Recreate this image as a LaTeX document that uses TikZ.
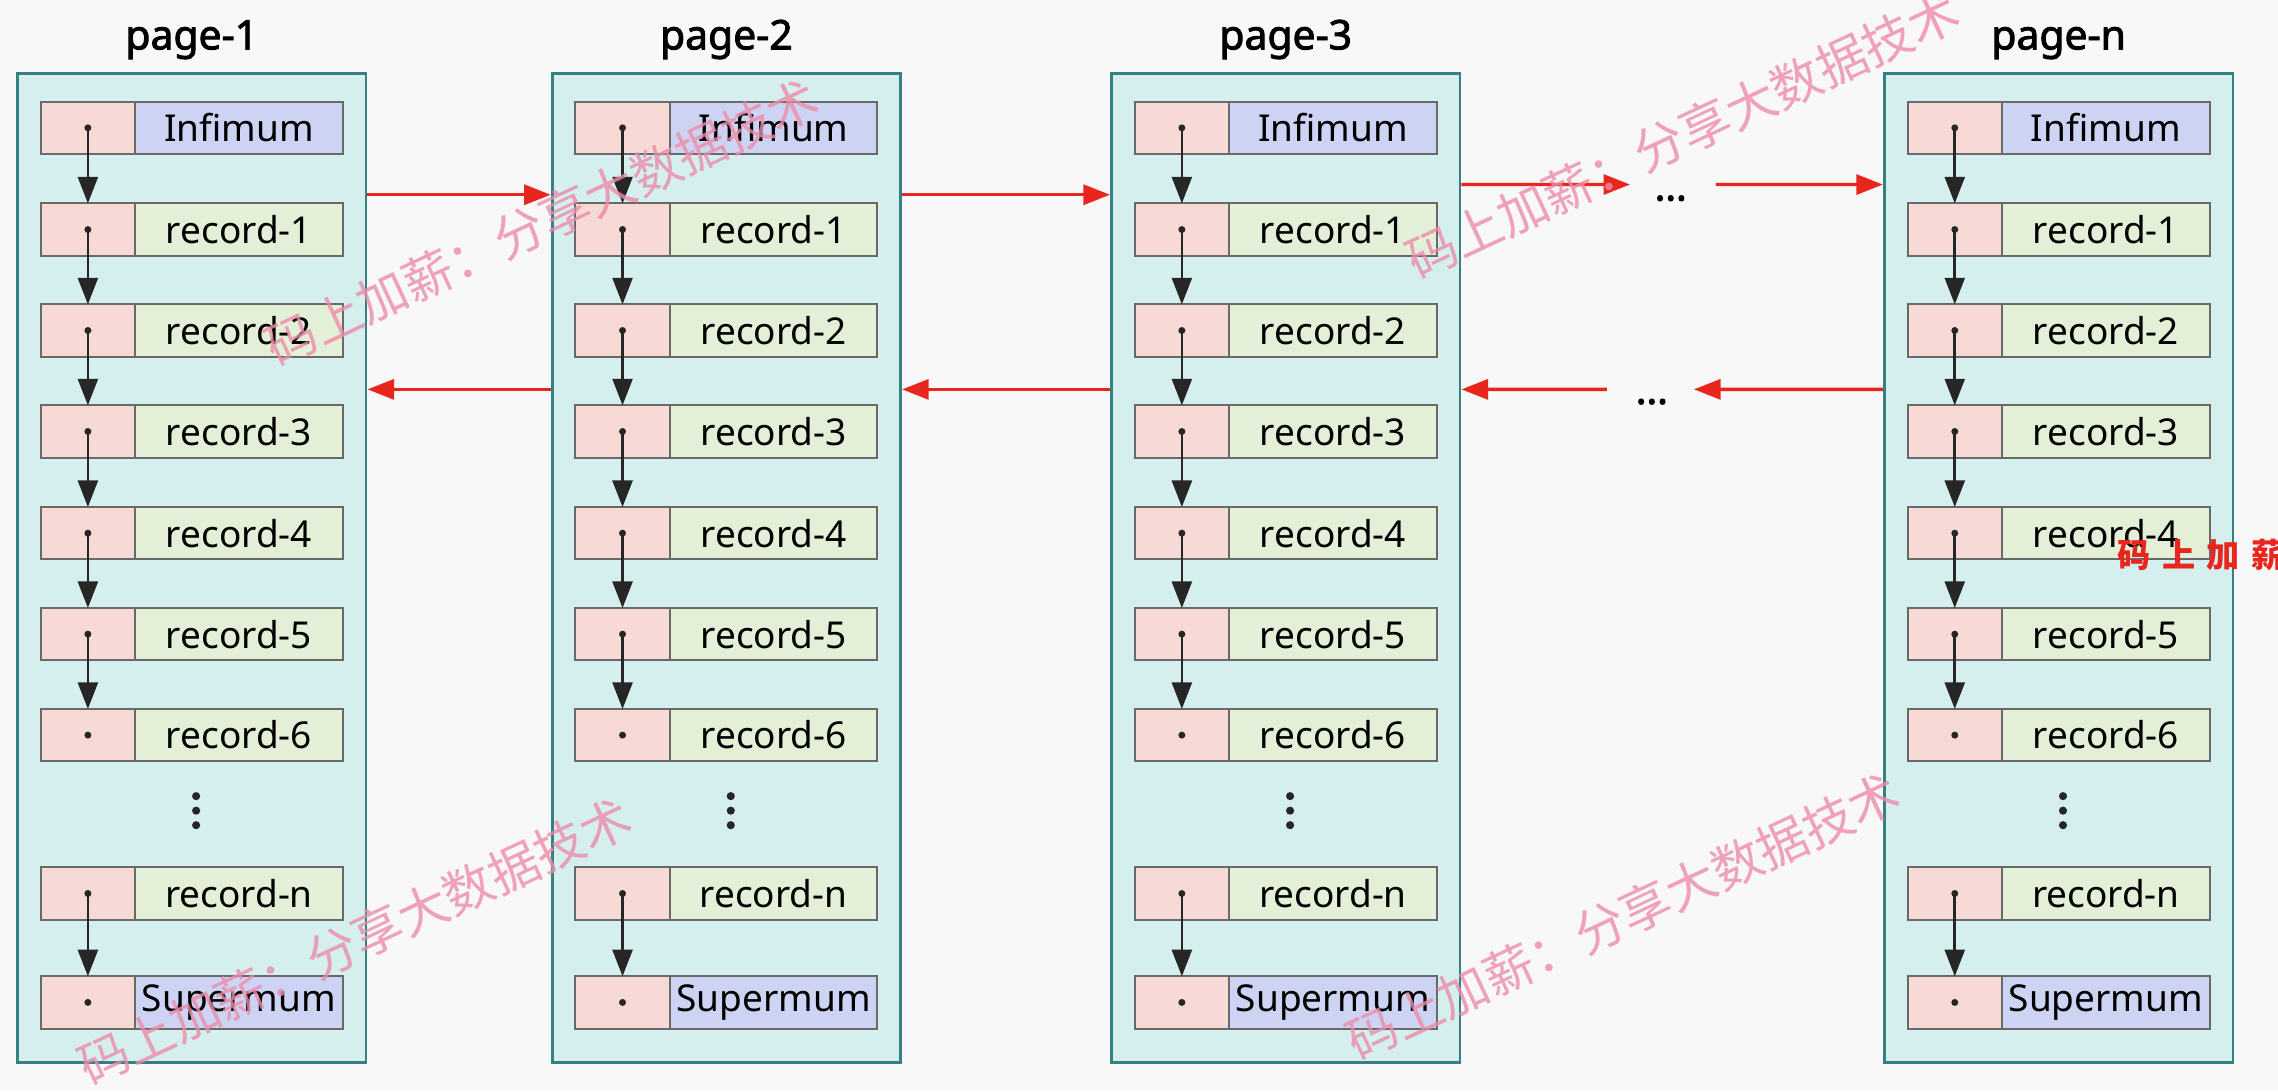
\documentclass[tikz,border=0pt]{standalone}
\usepackage{fontspec}
\setmainfont{Noto Sans}
\newfontfamily\heavyfont{Noto Sans}[FakeBold=2.2]
\newfontfamily\cjkfont{Noto Sans CJK SC}
\usetikzlibrary{positioning}
\usetikzlibrary{arrows.meta}
\definecolor{bgcol}{RGB}{248,248,248}
\definecolor{pagefill}{RGB}{213,238,238}
\definecolor{pageline}{RGB}{52,128,130}
\definecolor{ptrfill}{RGB}{247,217,213}
\definecolor{recfill}{RGB}{227,239,215}
\definecolor{sysfill}{RGB}{205,211,243}
\definecolor{cellline}{RGB}{105,105,105}
\definecolor{linkred}{RGB}{232,38,29}
\definecolor{wmpink}{RGB}{236,140,170}
\tikzset{
	pagebox/.style={draw=pageline,fill=pagefill,line width=1.1pt,minimum width=4.8cm,minimum height=13.62cm,inner sep=0pt},
	ptrcell/.style={draw=cellline,fill=ptrfill,line width=0.8pt,minimum width=1.3cm,minimum height=0.72cm,inner sep=0pt,outer sep=0pt},
	reccell/.style={draw=cellline,fill=recfill,line width=0.8pt,minimum width=2.86cm,minimum height=0.72cm,inner sep=0pt,outer sep=0pt,font=\fontsize{14.5}{16}\selectfont},
	syscell/.style={reccell,fill=sysfill},
	pagetitle/.style={font=\heavyfont\fontsize{16}{18}\selectfont,anchor=base,inner sep=0pt},
	ptrdot/.style={fill=black!85},
	nextptr/.style={draw=black!85,line width=1.05pt,-{Triangle[width=7.8pt,length=10.4pt]}},
	pagelink/.style={draw=linkred,line width=1.3pt,-{Triangle[width=7.8pt,length=10.4pt]}},
	gapdots/.style={font=\heavyfont\fontsize{16}{16}\selectfont,anchor=base,inner sep=0pt},
	watermark/.style={text=wmpink,opacity=0.8,font=\cjkfont\fontsize{19.7}{20}\selectfont,rotate=25,inner sep=0pt},
	overlaytext/.style={text=linkred,anchor=west,inner sep=0pt,font=\cjkfont\bfseries\fontsize{13}{14}\selectfont\addfontfeature{LetterSpace=35}},
}
\begin{document}
\begin{tikzpicture}[x=0.02cm,y=0.02cm]
	\fill[bgcol] (0,0) rectangle (1568,751);
	\useasboundingbox (0,0) rectangle (1568,751);
	\foreach \pg/\cx/\pname in {1/132/page-1,2/500/page-2,3/885/page-3,4/1417/page-n}{
		\node[pagebox] (pg\pg) at (\cx,360) {};
		\node[pagetitle] (title\pg) at (\cx,717) {\pname};
		\foreach \r/\ry/\sty/\lbl in {0/663/syscell/Infimum,1/593/reccell/record-1,2/523.5/reccell/record-2,3/454/reccell/record-3,4/384/reccell/record-4,5/314.5/reccell/record-5,6/245/reccell/record-6,8/136/reccell/record-n,9/61/syscell/Supermum}{
			\node[ptrcell] (pg\pg ptr\r) at (\cx-71.5,\ry) {};
			\node[\sty,right=0pt of pg\pg ptr\r] (pg\pg rec\r) {\lbl};
			\fill[ptrdot] (pg\pg ptr\r.center) circle (2.4);
		}
		\foreach \a/\b in {0/1,1/2,2/3,3/4,4/5,5/6,8/9}
			\draw[nextptr] (pg\pg ptr\a.center) -- (pg\pg ptr\b.north);
		\foreach \dy in {183,193,203}
			\fill[ptrdot] (\cx+3,\dy) circle (2.8);
	}
	% next page links
	\draw[pagelink] ([yshift=5.14cm]pg1.east) -- ([yshift=5.14cm]pg2.west);
	\draw[pagelink] ([yshift=5.14cm]pg2.east) -- ([yshift=5.14cm]pg3.west);
	\coordinate (fwdend) at (1122,624);
	\coordinate (fwdstart) at (1181,624);
	\draw[pagelink] ([yshift=5.28cm]pg3.east) -- (fwdend);
	\draw[pagelink] (fwdstart) -- ([yshift=5.28cm]pg4.west);
	\node[gapdots] (fwddots) at (1150,613) {…};
	% previous page links
	\draw[pagelink] ([yshift=2.46cm]pg2.west) -- ([yshift=2.46cm]pg1.east);
	\draw[pagelink] ([yshift=2.46cm]pg3.west) -- ([yshift=2.46cm]pg2.east);
	\coordinate (bakend) at (1166,483);
	\coordinate (bakstart) at (1106,483);
	\draw[pagelink] ([yshift=2.46cm]pg4.west) -- (bakend);
	\draw[pagelink] (bakstart) -- ([yshift=2.46cm]pg3.east);
	\node[gapdots] (bakdots) at (1137,473) {…};
	% watermarks
	\node[watermark] (wm1) at (373,598) {码上加薪：分享大数据技术};
	\node[watermark] (wm2) at (1158,658) {码上加薪：分享大数据技术};
	\node[watermark] (wm3) at (244,103) {码上加薪：分享大数据技术};
	\node[watermark] (wm4) at (1117,120) {码上加薪：分享大数据技术};
	\node[overlaytext] (wm5) at (1457,369) {码上加薪};
\end{tikzpicture}
\end{document}
